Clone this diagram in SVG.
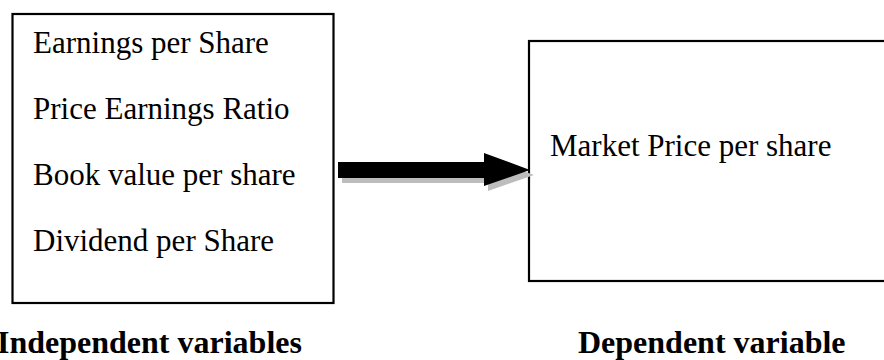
<svg xmlns="http://www.w3.org/2000/svg" width="884" height="360" viewBox="0 0 884 360">
<style>
.box{fill:#fff;stroke:#000;stroke-width:2.2}
.t{font-family:"Liberation Serif","Times New Roman",serif;font-size:31px;fill:#000}
.b{font-family:"Liberation Serif","Times New Roman",serif;font-size:32px;font-weight:bold;fill:#000}
</style>
<rect width="884" height="360" fill="#fff"/>
<g id="independent">
<rect class="box" x="12.5" y="14" width="321" height="289"/>
<text class="t" x="33" y="53">Earnings per Share</text>
<text class="t" x="33" y="119">Price Earnings Ratio</text>
<text class="t" x="33" y="185">Book value per share</text>
<text class="t" x="33" y="251">Dividend per Share</text>
<text class="b" x="-3" y="353">Independent variables</text>
</g>
<g id="dependent">
<rect class="box" x="529" y="41" width="400" height="240"/>
<text class="t" x="550" y="156">Market Price per share</text>
<text class="b" x="578" y="353">Dependent variable</text>
</g>
<g id="connectors">
<polygon points="342,167 488,167 488,158 534,175 488,191 488,183 342,183" fill="#bdbdbd"/>
<polygon points="338,162 484,162 484,153 530,170 484,186 484,178 338,178" fill="#000"/>
</g>
</svg>
